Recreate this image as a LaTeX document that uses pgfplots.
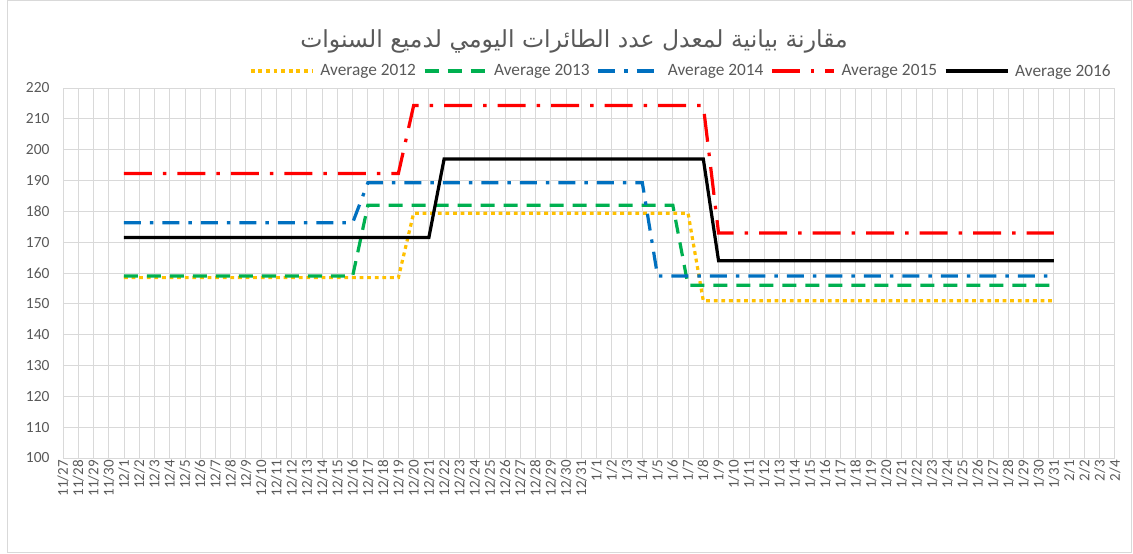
\documentclass[border=0pt]{standalone}
\usepackage{fontspec}
\setmainfont{Carlito}
\newfontfamily\arabicfont[Script=Arabic]{DejaVu Sans}
\TeXXeTstate=1
\usepackage{pgfplots}
\pgfplotsset{compat=1.18}
\definecolor{gridc}{HTML}{D9D9D9}
\definecolor{txt}{HTML}{595959}
\definecolor{c12}{HTML}{FFC000}
\definecolor{c13}{HTML}{00B050}
\definecolor{c14}{HTML}{0070C0}
\definecolor{c15}{HTML}{FF0000}
\begin{document}
\begin{tikzpicture}
\path[use as bounding box] (0pt,0pt) rectangle (1133pt,554pt);
\draw[gridc, line width=1pt] (7pt,1.5pt) rectangle (1131.5pt,553pt);
\node[text=txt, font=\arabicfont\fontsize{23.5}{23.5}\selectfont] at (574pt,513pt) {\beginR مقارنة بيانية لمعدل عدد الطائرات اليومي لدميع السنوات\endR};
\begin{axis}[
  at={(63pt,96pt)}, anchor=south west,
  scale only axis, width=1052pt, height=370pt,
  xmin=0, xmax=69, ymin=100, ymax=220,
  xtick={0,...,69},
  xticklabels={11/27,11/28,11/29,11/30,
    12/1,12/2,12/3,12/4,12/5,12/6,12/7,12/8,12/9,12/10,12/11,12/12,12/13,12/14,12/15,12/16,12/17,12/18,12/19,12/20,12/21,12/22,12/23,12/24,12/25,12/26,12/27,12/28,12/29,12/30,12/31,
    1/1,1/2,1/3,1/4,1/5,1/6,1/7,1/8,1/9,1/10,1/11,1/12,1/13,1/14,1/15,1/16,1/17,1/18,1/19,1/20,1/21,1/22,1/23,1/24,1/25,1/26,1/27,1/28,1/29,1/30,1/31,
    2/1,2/2,2/3,2/4},
  ytick={100,110,...,220},
  grid=major, major grid style={gridc, line width=0.9pt},
  axis line style={gridc, line width=0.9pt},
  tick style={draw=none},
  /pgf/number format/assume math mode=true,
  x tick label style={rotate=90, anchor=east, font=\fontsize{15}{15}\selectfont, text=txt, inner sep=2pt},
  y tick label style={font=\fontsize{15.5}{15.5}\selectfont, text=txt, xshift=-10pt},
  legend columns=5,
  legend style={at={(0.5875,1.046)}, anchor=center, draw=none, fill=none,
    font=\fontsize{17.3}{17.3}\selectfont, text=txt,
    /tikz/every odd column/.append style={column sep=4pt},
    /tikz/every even column/.append style={column sep=5pt}},
  legend image code/.code={\draw[#1] (0pt,0pt) -- (62pt,0pt);},
]
\addplot[c12, line width=3.2pt, dash pattern=on 3.8pt off 3.8pt] coordinates {(4,158.5)(22,158.5)(23,179.4)(41,179.4)(42,151)(65,151)};
\addlegendentry{Average 2012}
\addplot[c13, line width=3.2pt, dash pattern=on 14pt off 9pt] coordinates {(4,159)(19,159)(20,182)(40,182)(41,156)(65,156)};
\addlegendentry{Average 2013}
\addplot[c14, line width=3.2pt, dash pattern=on 17pt off 9pt on 3.5pt off 9pt] coordinates {(4,176.3)(19,176.3)(20,189.3)(38,189.3)(39,159)(65,159)};
\addlegendentry{Average 2014}
\addplot[c15, line width=3.2pt, dash pattern=on 28pt off 11pt on 3.5pt off 11pt] coordinates {(4,192.3)(22,192.3)(23,214.3)(42,214.3)(43,173)(65,173)};
\addlegendentry{Average 2015}
\addplot[black, line width=3.2pt] coordinates {(4,171.5)(24,171.5)(25,197)(42,197)(43,164)(65,164)};
\addlegendentry{Average 2016}
\end{axis}
\end{tikzpicture}
\end{document}
